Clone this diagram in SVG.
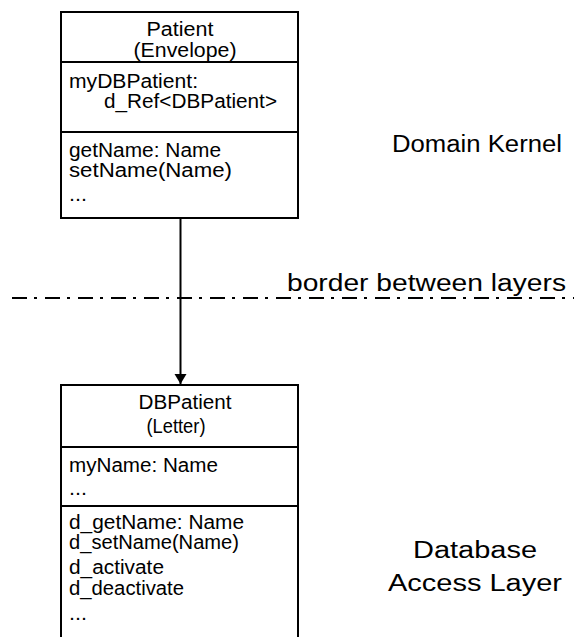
<svg xmlns="http://www.w3.org/2000/svg" width="574" height="637" viewBox="0 0 574 637">
<style>
.box{fill:#fff;stroke:#000;stroke-width:2}
.div{stroke:#000;stroke-width:2}
text{font-family:"Liberation Sans",Arial,sans-serif;fill:#000}
.t{font-size:19.5px}
.l{font-size:23px}
.c{text-anchor:middle}
</style>
<defs>
<marker id="arr" markerWidth="12" markerHeight="14" refX="10" refY="6" orient="auto" markerUnits="userSpaceOnUse">
<path d="M0,0 L10,6 L0,12 z" fill="#000"/>
</marker>
</defs>
<rect width="574" height="637" fill="#fff"/>
<g id="layer-border">
<line x1="12" y1="298" x2="574" y2="298" stroke="#000" stroke-width="2" stroke-dasharray="15 7 3 8"/>
<text class="l" x="287" y="291" textLength="279" lengthAdjust="spacingAndGlyphs">border between layers</text>
</g>
<g id="connectors">
<line x1="180.5" y1="219" x2="180.5" y2="384" stroke="#000" stroke-width="2" marker-end="url(#arr)"/>
</g>
<g id="patient">
<rect class="box" x="61" y="12" width="237" height="206"/>
<line class="div" x1="61" y1="62" x2="298" y2="62"/>
<line class="div" x1="61" y1="132" x2="298" y2="132"/>
<text class="t c" x="180" y="36" textLength="67" lengthAdjust="spacingAndGlyphs">Patient</text>
<text class="t c" x="185" y="57" textLength="103" lengthAdjust="spacingAndGlyphs">(Envelope)</text>
<text class="t" x="69" y="88" textLength="129" lengthAdjust="spacingAndGlyphs">myDBPatient:</text>
<text class="t" x="104" y="108" textLength="173" lengthAdjust="spacingAndGlyphs">d_Ref&lt;DBPatient&gt;</text>
<text class="t" x="69" y="157" textLength="152" lengthAdjust="spacingAndGlyphs">getName: Name</text>
<text class="t" x="69" y="177" textLength="163" lengthAdjust="spacingAndGlyphs">setName(Name)</text>
<text class="t" x="69" y="201" textLength="18" lengthAdjust="spacingAndGlyphs">...</text>
</g>
<g id="dbpatient">
<rect class="box" x="61" y="385" width="237" height="270"/>
<line class="div" x1="61" y1="447" x2="298" y2="447"/>
<line class="div" x1="61" y1="506" x2="298" y2="506"/>
<text class="t c" x="185" y="409" textLength="93" lengthAdjust="spacingAndGlyphs">DBPatient</text>
<text class="t c" x="176" y="433" textLength="59" lengthAdjust="spacingAndGlyphs">(Letter)</text>
<text class="t" x="69" y="472" textLength="149" lengthAdjust="spacingAndGlyphs">myName: Name</text>
<text class="t" x="69" y="495" textLength="18" lengthAdjust="spacingAndGlyphs">...</text>
<text class="t" x="69" y="529" textLength="175" lengthAdjust="spacingAndGlyphs">d_getName: Name</text>
<text class="t" x="69" y="549" textLength="170" lengthAdjust="spacingAndGlyphs">d_setName(Name)</text>
<text class="t" x="69" y="574" textLength="95" lengthAdjust="spacingAndGlyphs">d_activate</text>
<text class="t" x="69" y="595" textLength="115" lengthAdjust="spacingAndGlyphs">d_deactivate</text>
<text class="t" x="69" y="620" textLength="18" lengthAdjust="spacingAndGlyphs">...</text>
</g>
<g id="domain-kernel">
<text class="l" x="392" y="152" textLength="170" lengthAdjust="spacingAndGlyphs">Domain Kernel</text>
</g>
<g id="database-access-layer">
<text class="l c" x="475" y="558" textLength="124" lengthAdjust="spacingAndGlyphs">Database</text>
<text class="l c" x="475" y="591" textLength="174" lengthAdjust="spacingAndGlyphs">Access Layer</text>
</g>
</svg>
